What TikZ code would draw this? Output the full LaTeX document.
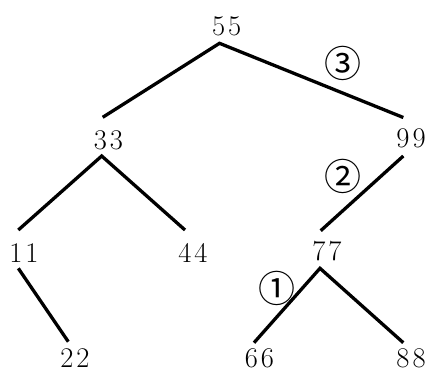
\documentclass[tikz,border=0pt]{standalone}
\usepackage{fontspec}
\newfontfamily\circfont{Noto Sans CJK JP}
\begin{document}
\begin{tikzpicture}[x=1pt,y=-1pt,
  num/.style={font=\fontsize{28.5}{30}\selectfont, anchor=base, inner sep=0pt},
  circ/.style={font=\circfont\fontsize{37}{40}\selectfont, inner sep=0pt},
  edge/.style={line width=3.3pt}]
\useasboundingbox (0,0) rectangle (430,373);
% value nodes
\node[num] (n55) at (226.7,35) {5\kern3pt 5};
\node[num] (n33) at (108.5,149) {3\kern3pt 3};
\node[num] (n99) at (411,147) {9\kern3pt 9};
\node[num] (n11) at (24,262) {1\kern3pt 1};
\node[num] (n44) at (193,262) {4\kern3pt 4};
\node[num] (n77) at (327,260) {7\kern3pt 7};
\node[num] (n22) at (75,367.5) {2\kern3pt 2};
\node[num] (n66) at (259.5,367.5) {6\kern3pt 6};
\node[num] (n88) at (411,367.5) {8\kern3pt 8};
% step labels
\node[circ] (c3) at (343.3,63.3) {③};
\node[circ] (c2) at (343.3,176.7) {②};
\node[circ] (c1) at (276.7,288.3) {①};
% connector end points
\coordinate (b55) at (219.5,43.3);
\coordinate (t33) at (102.7,117.3);
\coordinate (t99) at (403.3,117.5);
\coordinate (b33) at (101.7,156);
\coordinate (t11) at (18.3,230);
\coordinate (t44) at (185,230);
\coordinate (b11) at (18.3,268.3);
\coordinate (t22) at (68.3,341.7);
\coordinate (b99) at (403.3,156);
\coordinate (t77) at (320.7,230.7);
\coordinate (b77) at (320,268.3);
\coordinate (t66) at (254,342.7);
\coordinate (t88) at (403.3,342.7);
% connectors
\draw[edge] (t33) -- (b55) -- (t99);
\draw[edge] (t11) -- (b33) -- (t44);
\draw[edge] (b11) -- (t22);
\draw[edge] (b99) -- (t77);
\draw[edge] (t66) -- (b77) -- (t88);
\end{tikzpicture}
\end{document}
